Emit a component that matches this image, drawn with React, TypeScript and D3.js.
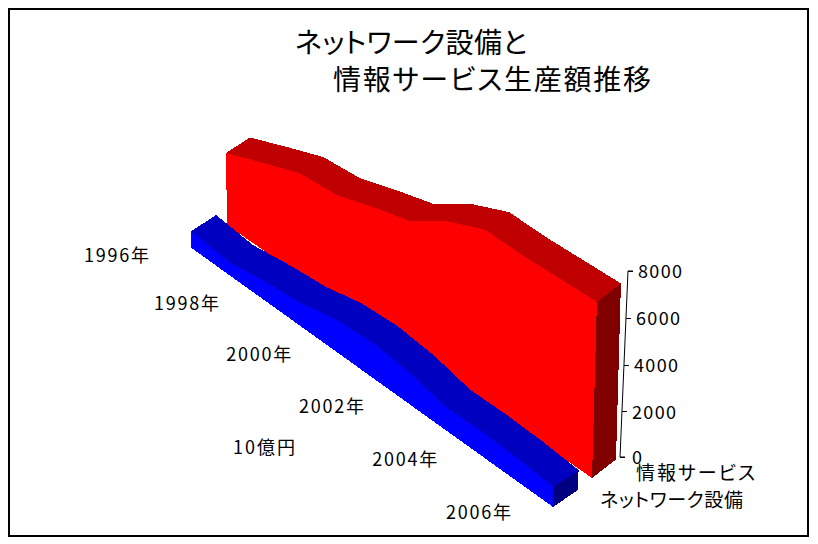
import React from "react";
import * as d3 from "d3";

const years = [1996, 1997, 1998, 1999, 2000, 2001, 2002, 2003, 2004, 2005, 2006];
const infoService = [3600, 4310, 4960, 5060, 5590, 6030, 7090, 7750, 7630, 7610, 7590];
const network = [850, 640, 920, 1100, 1510, 1620, 1440, 1040, 1060, 1000, 860];
const axisTicks = [0, 2000, 4000, 6000, 8000];
const yearLabels = [1996, 1998, 2000, 2002, 2004, 2006];
const titleLines = ["ネットワーク設備と", "情報サービス生産額推移"];
const seriesNames = ["情報サービス", "ネットワーク設備"];
const unitLabel = "10億円";

const W = 818, H = 544;
const FONT = "'Noto Sans CJK JP', sans-serif";

// perspective along the year axis
const along = d3.scalePow().exponent(1.05).domain([1996, 2006]).range([0, 1]);
const pxPerUnit = d3.scaleLinear().domain([0, 1]).range([0.02, 0.0232]);
const tilt = d3.scaleLinear().domain([0, 1]).range([-0.014, 0.028]);

type Face = { base: [[number, number], [number, number]]; depthX: number; depthY: [number, number]; front: string; top: string; side: string };

function makeProject(f: Face) {
  const bx = d3.scaleLinear().domain([0, 1]).range([f.base[0][0], f.base[1][0]]);
  const by = d3.scaleLinear().domain([0, 1]).range([f.base[0][1], f.base[1][1]]);
  const dy = d3.scaleLinear().domain([0, 1]).range(f.depthY);
  return (yr: number, v: number, back = 0): [number, number] => {
    const t = along(yr);
    const h = v * pxPerUnit(t);
    return [bx(t) + tilt(t) * h + back * f.depthX, by(t) - h + back * dy(t)];
  };
}

const redFace: Face = { base: [[227, 225], [592, 478]], depthX: 24, depthY: [-15.5, -18.5], front: "#FF0000", top: "#C00000", side: "#800000" };
const blueFace: Face = { base: [[191.5, 248], [553, 507]], depthX: 25, depthY: [-16, -17], front: "#0000FF", top: "#0000C0", side: "#000080" };

const line = d3.line<[number, number]>();

function Ribbon({ face, values }: { face: Face; values: number[] }) {
  const p = makeProject(face);
  const topFront = years.map((y, i) => p(y, values[i]));
  const topBack = years.map((y, i) => p(y, values[i], 1));
  const baseFront = years.map((y) => p(y, 0));
  const last = years.length - 1;
  const lastY = years[last], lastV = values[last];
  const poly = (pts: [number, number][]) => line(pts) + "Z";
  return (
    <g shapeRendering="crispEdges">
      <path d={poly([...topFront, ...[...topBack].reverse()])} fill={face.top} />
      <path d={poly([p(lastY, 0, 0), p(lastY, 0, 1), p(lastY, lastV, 1), p(lastY, lastV, 0)])} fill={face.side} />
      <path d={poly([...topFront, ...[...baseFront].reverse()])} fill={face.front} />
    </g>
  );
}

export default function App() {
  const axisY = d3.scalePow().exponent(1.02).domain([0, 8000]).range([457, 271]);
  const axisX = d3.scaleLinear().domain([0, 8000]).range([620, 628]);
  const labelX = d3.scalePow().exponent(1.02).domain([0, 10]).range([84, 446]);
  const labelY = d3.scalePow().exponent(1.04).domain([0, 10]).range([262, 519]);
  const text = { fontFamily: FONT, fill: "#000", fontFeatureSettings: '"palt"' } as React.CSSProperties;
  return (
    <svg width={W} height={H} viewBox={`0 0 ${W} ${H}`} style={{ position: "absolute", left: 0, top: 0, background: "#fff" }}>
      <rect x={9} y={9} width={799} height={527} fill="#fff" stroke="#000" strokeWidth={2} shapeRendering="crispEdges" />
      <text x={295} y={53} fontSize={28} textLength={232} style={text}>{titleLines[0]}</text>
      <text x={333} y={90} fontSize={28} textLength={318} style={text}>{titleLines[1]}</text>

      <Ribbon face={redFace} values={infoService} />
      <Ribbon face={blueFace} values={network} />

      <path
        d={`M${axisX(0) + 5},${axisY(0)}L${axisX(0)},${axisY(0)}L${axisX(8000)},${axisY(8000)}L${axisX(8000) + 5},${axisY(8000)}`}
        fill="none" stroke="#000" strokeWidth={1}
      />
      {axisTicks.map((t) => (
        <g key={t}>
          <line x1={axisX(t)} x2={axisX(t) + 5} y1={axisY(t)} y2={axisY(t)} stroke="#000" strokeWidth={1} shapeRendering="crispEdges" />
          <text x={axisX(t) + (t === 0 ? 12 : 10)} y={axisY(t) + 7} fontSize={18} textLength={String(t).length * 11} style={text}>{t}</text>
        </g>
      ))}

      {yearLabels.map((y) => (
        <text key={y} x={labelX(y - 1996)} y={labelY(y - 1996)} fontSize={18} textLength={65} style={text}>{y}年</text>
      ))}
      <text x={233} y={454} fontSize={18} textLength={62} style={text}>{unitLabel}</text>
      <text x={636} y={480} fontSize={19} textLength={119} style={text}>{seriesNames[0]}</text>
      <text x={600} y={507} fontSize={19} textLength={143} style={text}>{seriesNames[1]}</text>
    </svg>
  );
}
